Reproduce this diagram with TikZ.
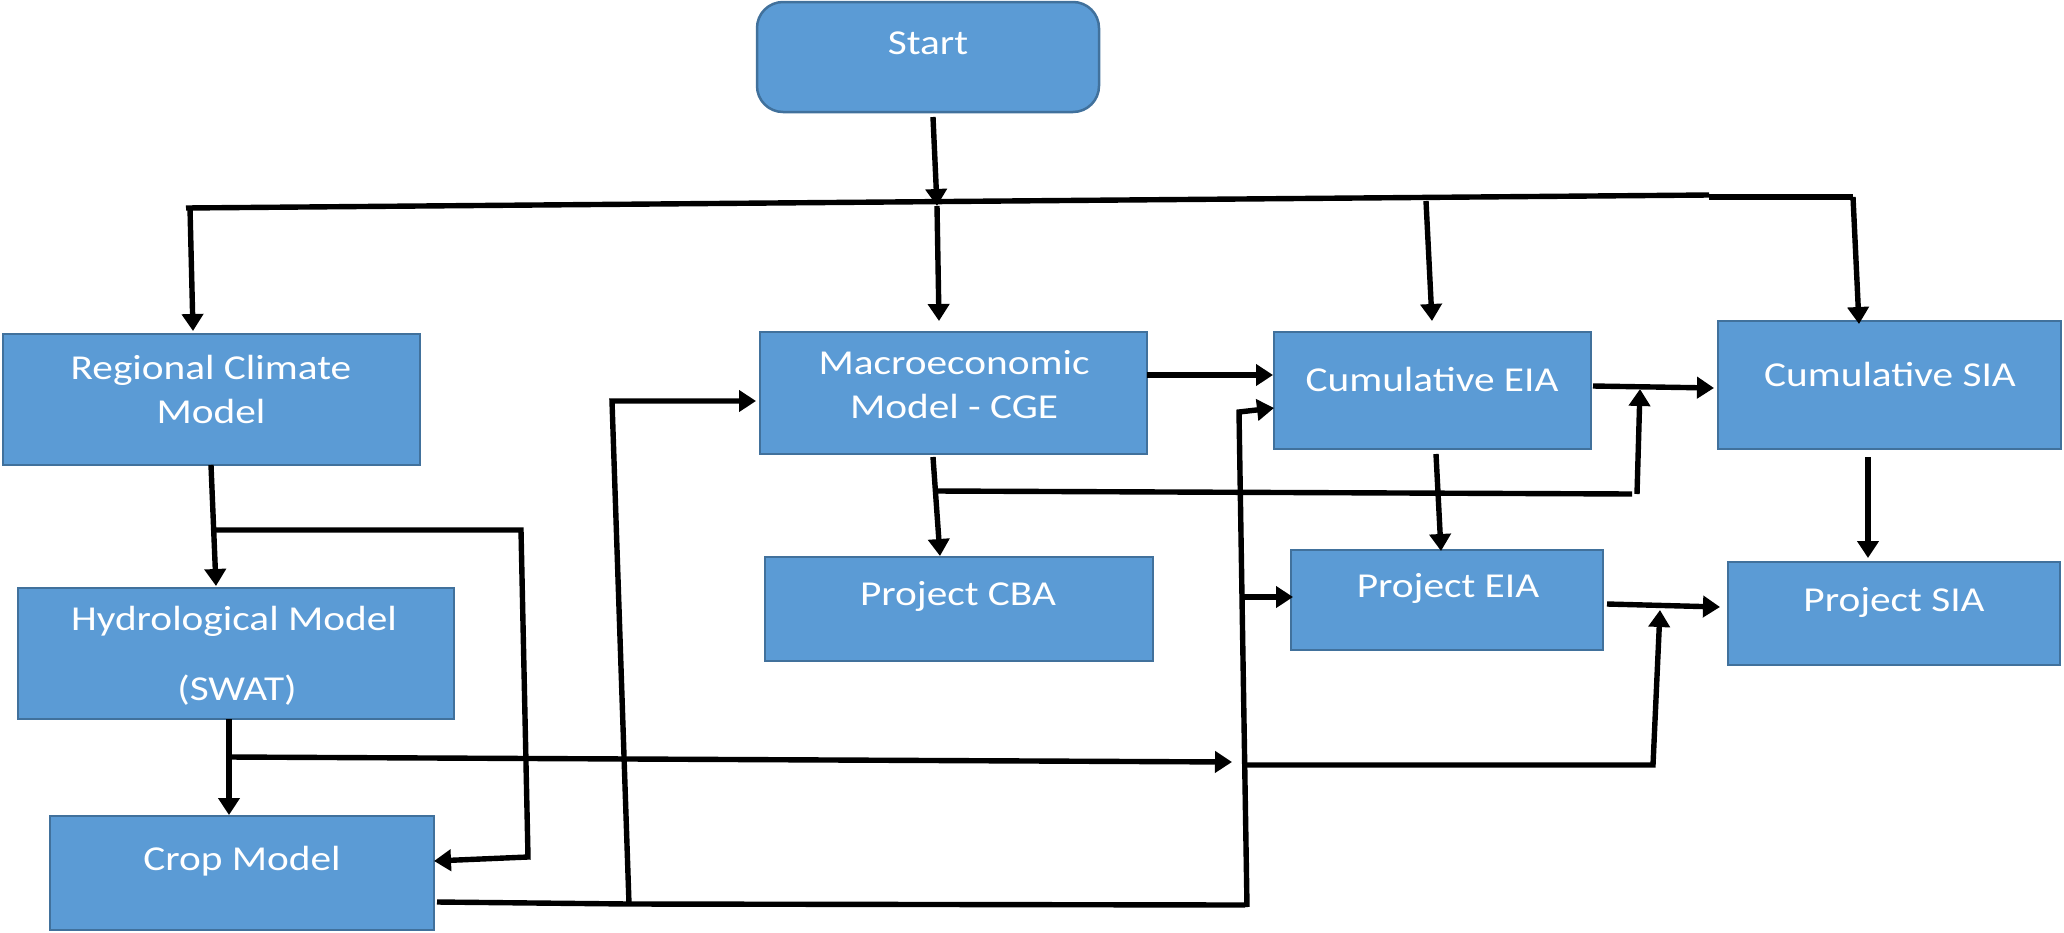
\documentclass[tikz,border=0pt]{standalone}
\usepackage{fontspec}
\setmainfont{Carlito}[FakeStretch=1.18]
\usetikzlibrary{arrows.meta}
\definecolor{boxfill}{HTML}{5B9BD5}
\definecolor{boxline}{HTML}{41719C}
\tikzset{
  box/.style={draw=boxline, line width=2.5pt, fill=boxfill, inner sep=0pt, rectangle},
  txt/.style={text=white, font=\fontsize{35}{44}\selectfont, align=center, inner sep=0pt},
  conn/.style={line width=5.4pt, black},
  arr/.style={conn, -{Triangle[length=17pt,width=21pt]}},
}
\begin{document}
\begin{tikzpicture}[x=1pt,y=-1pt]
\useasboundingbox (0,0) rectangle (2064,932);
% boxes
\node[box, rounded corners=26pt, minimum width=342pt, minimum height=110pt] (start) at (928,57) {};
\node[box, minimum width=417pt, minimum height=131pt] (rcm) at (211.5,399.5) {};
\node[box, minimum width=436pt, minimum height=131pt] (hyd) at (236,653.5) {};
\node[box, minimum width=384pt, minimum height=114pt] (crop) at (242,873) {};
\node[box, minimum width=387pt, minimum height=122pt] (macro) at (953.5,393) {};
\node[box, minimum width=388pt, minimum height=104pt] (cba) at (959,609) {};
\node[box, minimum width=317pt, minimum height=117pt] (ceia) at (1432.5,390.5) {};
\node[box, minimum width=312pt, minimum height=100pt] (peia) at (1447,600) {};
\node[box, minimum width=343pt, minimum height=128pt] (csia) at (1889.5,385) {};
\node[box, minimum width=332pt, minimum height=103pt] (psia) at (1894,613.5) {};
% texts
\node[txt] (tstart) at (928,43) {Start};
\node[txt] (trcm) at (211,389) {Regional Climate\\Model};
\node[txt] (thyd1) at (234,621) {Hydrological Model};
\node[txt] (thyd2) at (237,690) {(SWAT)};
\node[txt] (tcrop) at (242,861) {Crop Model};
\node[txt] (tmacro) at (954,385) {Macroeconomic\\Model - CGE};
\node[txt] (tcba) at (958,596) {Project CBA};
\node[txt] (tceia) at (1432,379) {Cumulative EIA};
\node[txt] (tpeia) at (1448,588) {Project EIA};
\node[txt] (tcsia) at (1890,374) {Cumulative SIA};
\node[txt] (tpsia) at (1894,602) {Project SIA};
% coordinates
\coordinate (s0) at (933,117);
\coordinate (s1) at (937,206);
\coordinate (tl) at (186,208);
\coordinate (tr) at (1709,195);
\coordinate (tr2) at (1709,197);
\coordinate (tre) at (1853,197);
\coordinate (a1s) at (190,208);
\coordinate (a1e) at (193,331);
\coordinate (a2e) at (939,321);
\coordinate (a3s) at (1426,201);
\coordinate (a3e) at (1432,321);
\coordinate (a4e) at (1859,324);
\coordinate (r0) at (211,465);
\coordinate (r1) at (216,586);
\coordinate (rb) at (216,530);
\coordinate (rb1) at (521,530);
\coordinate (rb2) at (528,857);
\coordinate (rb3) at (434,861);
\coordinate (h0) at (229,719);
\coordinate (h1) at (229,815);
\coordinate (hb) at (229,757);
\coordinate (hb1) at (1232,762);
\coordinate (c0) at (437,902);
\coordinate (c1) at (629,904);
\coordinate (v1t) at (612,401);
\coordinate (v1e) at (756,401);
\coordinate (c2) at (1245,905);
\coordinate (v2b) at (1247,907);
\coordinate (v2t) at (1239,412);
\coordinate (v2e) at (1274,408);
\coordinate (v2m) at (1243,597);
\coordinate (v2me) at (1293,597);
\coordinate (v2n) at (1246,765);
\coordinate (v2n1) at (1653,765);
\coordinate (v2n2) at (1660,610);
\coordinate (m0) at (1147,375);
\coordinate (m1) at (1273,375);
\coordinate (md0) at (933,457);
\coordinate (md1) at (940,556);
\coordinate (mb) at (936,491);
\coordinate (mb1) at (1632,494);
\coordinate (mb2) at (1637,494);
\coordinate (mb3) at (1640,389);
\coordinate (ce0) at (1593,386);
\coordinate (ce1) at (1714,388);
\coordinate (cd0) at (1436,454);
\coordinate (cd1) at (1441,551);
\coordinate (sd0) at (1868,457);
\coordinate (sd1) at (1868,558);
\coordinate (pe0) at (1607,604);
\coordinate (pe1) at (1720,607);
% connectors
\draw[arr] (s0) -- (s1);
\draw[conn] (tl) -- (tr);
\draw[conn] (tr2) -- (tre);
\draw[arr] (a1s) -- (a1e);
\draw[arr] (s1) -- (a2e);
\draw[arr] (a3s) -- (a3e);
\draw[arr] (tre) -- (a4e);
\draw[arr] (r0) -- (r1);
\draw[arr] (rb) -- (rb1) -- (rb2) -- (rb3);
\draw[arr] (h0) -- (h1);
\draw[arr] (hb) -- (hb1);
\draw[conn] (c0) -- (c1);
\draw[arr] (c1) -- (v1t) -- (v1e);
\draw[conn] (c1) -- (c2);
\draw[arr] (v2b) -- (v2t) -- (v2e);
\draw[arr] (v2m) -- (v2me);
\draw[arr] (v2n) -- (v2n1) -- (v2n2);
\draw[arr] (m0) -- (m1);
\draw[arr] (md0) -- (md1);
\draw[conn] (mb) -- (mb1);
\draw[arr] (mb2) -- (mb3);
\draw[arr] (ce0) -- (ce1);
\draw[arr] (cd0) -- (cd1);
\draw[arr] (sd0) -- (sd1);
\draw[arr] (pe0) -- (pe1);
\end{tikzpicture}
\end{document}
